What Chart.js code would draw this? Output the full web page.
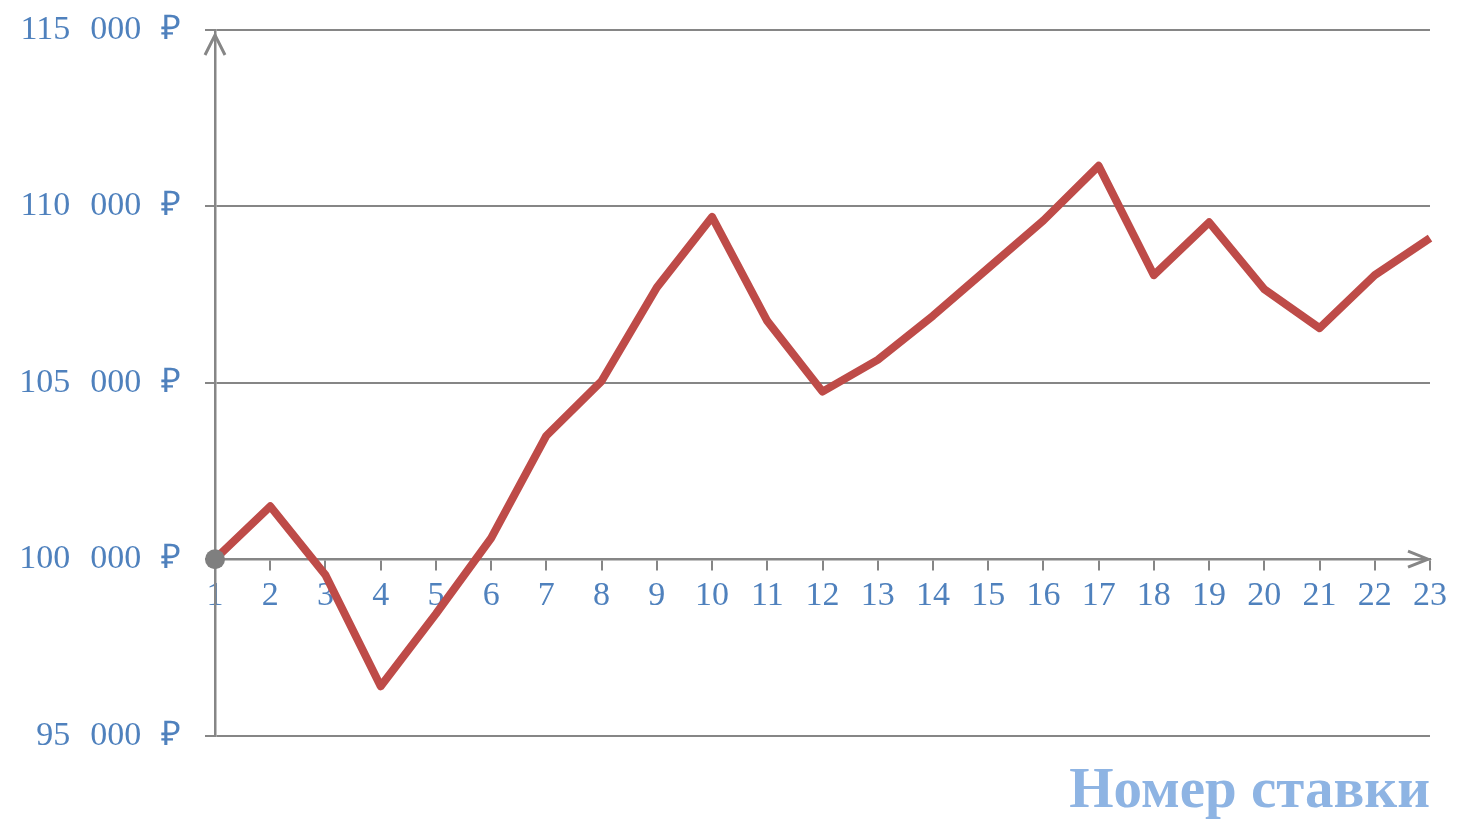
<!DOCTYPE html>
<html>
<head>
<meta charset="utf-8">
<script src="https://cdn.jsdelivr.net/npm/chart.js@4"></script>
<style>
  body { margin: 0; background: #fff; }
  #wrap { width: 1460px; height: 840px; }
</style>
</head>
<body>
<div id="wrap"><canvas id="myChart"></canvas></div>
<script>
  // номер ставки и баланс после неё
  const betNumbers = ['1','2','3','4','5','6','7','8','9','10','11','12','13','14','15','16','17','18','19','20','21','22','23'];
  const balance = [100000, 101500, 99550, 96400, 98450, 100600, 103500, 105050, 107700, 109700, 106750, 104750,
                   105650, 106900, 108250, 109600, 111150, 108050, 109550, 107650, 106550, 108050, 109100];
  const yMin = 95000, yMax = 115000, yStep = 5000;
  const xTitle = 'Номер ставки';

  const blue = '#4f81bd';
  const gridGray = '#868686';

  const gap = '\u2002\u200A';
  const fmt = v => String(v).replace(/\B(?=(\d{3})+(?!\d))/g, gap) + gap + '₽';

  // стрелки на концах осей
  const arrows = {
    id: 'arrows',
    afterDraw(chart) {
      const c = chart.ctx, a = chart.chartArea;
      const y0 = chart.scales.y.getPixelForValue(100000);
      c.save();
      c.strokeStyle = gridGray;
      c.lineWidth = 3;
      c.lineJoin = 'miter';
      c.beginPath();
      c.moveTo(a.left - 10, a.top + 25); c.lineTo(a.left, a.top + 5); c.lineTo(a.left + 10, a.top + 25);
      c.moveTo(a.right - 22, y0 - 8); c.lineTo(a.right - 2, y0); c.lineTo(a.right - 22, y0 + 8);
      c.stroke();
      c.restore();
    }
  };

  new Chart(document.getElementById('myChart'), {
    type: 'line',
    data: {
      labels: betNumbers,
      datasets: [{
        data: balance,
        borderColor: '#be4b48',
        borderWidth: 8,
        borderJoinStyle: 'round',
        tension: 0,
        pointRadius: ctx => ctx.dataIndex === 0 ? 10 : 0,
        pointBackgroundColor: '#7f7f7f',
        pointBorderWidth: 0,
        clip: false
      }]
    },
    options: {
      responsive: true,
      maintainAspectRatio: false,
      animation: false,
      layout: { padding: { top: 30, right: 30, left: 0, bottom: 14 } },
      plugins: {
        legend: { display: false },
        tooltip: { enabled: false },
        title: {
          display: true,
          text: xTitle,
          position: 'bottom',
          align: 'end',
          color: '#8eb4e3',
          font: { family: 'Liberation Serif', size: 57, weight: 'bold' },
          padding: { top: 22, bottom: 0 }
        }
      },
      scales: {
        x: {
          position: { y: 100000 },
          offset: false,
          grid: { drawOnChartArea: false, drawTicks: true, tickLength: 10, color: gridGray, lineWidth: 2 },
          border: { color: gridGray, width: 2.5 },
          ticks: {
            color: blue,
            padding: 6,
            maxRotation: 0,
            autoSkip: false,
            font: { family: 'Liberation Serif', size: 34 }
          }
        },
        y: {
          min: yMin,
          max: yMax,
          afterFit(scale) {
            scale.width = 215;
            scale.paddingTop = 0;
            scale.paddingBottom = 0;
          },
          grid: { color: gridGray, lineWidth: 2, tickLength: 10 },
          border: { color: gridGray, width: 2.5 },
          ticks: {
            stepSize: yStep,
            color: blue,
            padding: 24,
            font: { family: 'Liberation Serif', size: 34 },
            callback: v => fmt(v)
          }
        }
      }
    },
    plugins: [arrows]
  });
</script>
</body>
</html>
